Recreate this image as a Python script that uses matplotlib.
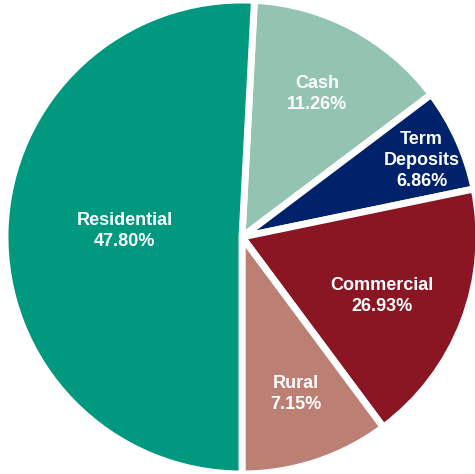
import numpy as np
import matplotlib.pyplot as plt

# categories and printed shares
categories = ['Cash', 'Term\nDeposits', 'Commercial', 'Rural', 'Residential']
shares = ['11.26%', '6.86%', '26.93%', '7.15%', '47.80%']
# wedge sizes as drawn in the picture (degrees)
wedge_deg = [50.0, 25.3, 65.1, 36.6, 183.0]
colors = ['#93c4b2', '#00226b', '#8b1623', '#bb7f74', '#00997f']

# label spots (x/y in data units)
label_xy = [(0.318, 0.602), (0.758, 0.322), (0.591, -0.25), (0.229, -0.661), (-0.496, 0.025)]

fig = plt.figure(figsize=(4.75, 4.74), dpi=100)
ax = fig.add_axes([0, 0, 1, 1])

ax.pie(wedge_deg, colors=colors, startangle=87, counterclock=False, radius=1,
       wedgeprops=dict(edgecolor='white', linewidth=5))

for cat, pct, (x, y) in zip(categories, shares, label_xy):
    ax.text(x, y, f'{cat}\n{pct}', ha='center', va='center', color='white',
            fontsize=13, fontweight='bold', family='Liberation Sans', linespacing=1.3)

s = 237.0
ax.set_xlim(-242 / s, (475 - 242) / s)
ax.set_ylim(-237 / s, 237 / s)
ax.axis('off')

fig.savefig('out.png', dpi=100)
